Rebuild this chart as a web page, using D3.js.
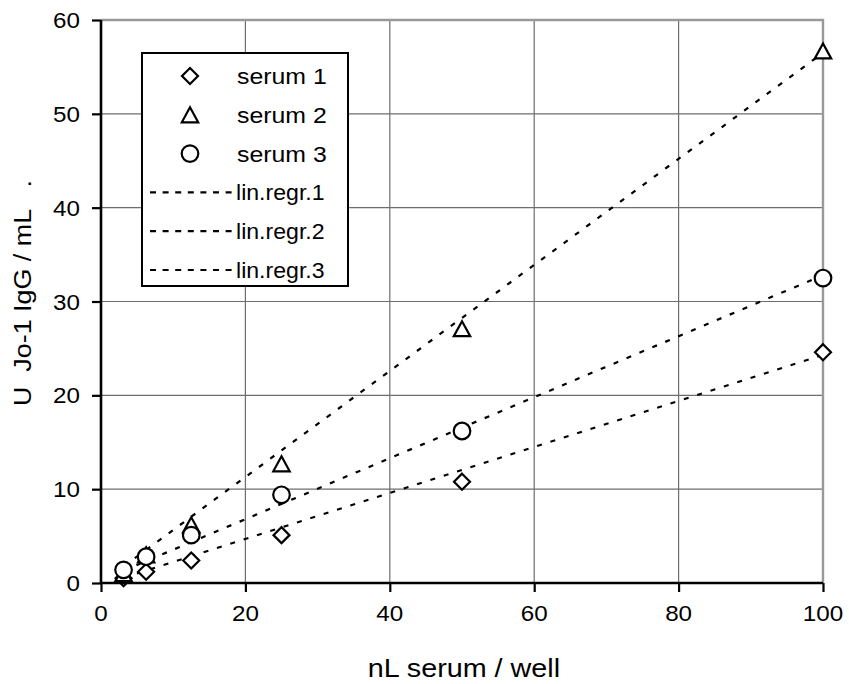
<!DOCTYPE html>
<html>
<head>
<meta charset="utf-8">
<script src="https://cdn.jsdelivr.net/npm/d3@7"></script>
<style>
  body { margin: 0; background: #fff; }
  svg { display: block; }
  text { font-family: "Liberation Sans", Arial, sans-serif; fill: #000; white-space: pre; }
</style>
</head>
<body>
<svg id="chart" width="849" height="684"></svg>
<script>
  // dilution series (nL serum per well)
  const volumes = [3.125, 6.25, 12.5, 25, 50, 100];

  // measured values, U Jo-1 IgG / mL
  const serum1 = [0.5, 1.2, 2.4, 5.1, 10.8, 24.6];
  const serum2 = [1.0, 3.0, 6.2, 12.7, 27.1, 56.7];
  const serum3 = [1.4, 2.8, 5.1, 9.4, 16.2, 32.5];

  // regression lines (slope, intercept)
  const fitSlopes     = [0.245, 0.565, 0.325];
  const fitIntercepts = [-0.2, 0.0, 0.3];

  const xTicks = [0, 20, 40, 60, 80, 100];
  const yTicks = [0, 10, 20, 30, 40, 50, 60];

  const seriesNames = ["serum 1", "serum 2", "serum 3"];
  const fitNames    = ["lin.regr.1", "lin.regr.2", "lin.regr.3"];
  const symbols     = ["diamond", "triangle", "circle"];

  const svg = d3.select("#chart");

  const plot = { left: 101, right: 823, top: 20, bottom: 583 };

  const x = d3.scaleLinear().domain([0, 100]).range([plot.left, plot.right]);
  const y = d3.scaleLinear().domain([0, 60]).range([plot.bottom, plot.top]);

  // put a text at a point, a bit stretched sideways like the original
  function label(parent, tx, ty, str, size, anchor, sx, rot) {
    const g = parent.append("g")
      .attr("transform", "translate(" + tx + "," + ty + ")" + (rot ? " rotate(" + rot + ")" : "") + " scale(" + sx + ",1)");
    g.append("text")
      .attr("text-anchor", anchor)
      .style("font-size", size + "px")
      .text(str);
    return g;
  }

  // marker shapes
  function marker(parent, kind, cx, cy) {
    if (kind === "circle") {
      parent.append("circle")
        .attr("cx", cx).attr("cy", cy).attr("r", 8.3)
        .attr("fill", "#fff").attr("stroke", "#000").attr("stroke-width", 2.2);
    } else if (kind === "diamond") {
      const r = 8;
      parent.append("path")
        .attr("d", "M" + cx + "," + (cy - r) + "L" + (cx + r) + "," + cy + "L" + cx + "," + (cy + r) + "L" + (cx - r) + "," + cy + "Z")
        .attr("fill", "#fff").attr("stroke", "#000").attr("stroke-width", 2.2);
    } else {
      const w = 8.2, h = 7.5;
      parent.append("path")
        .attr("d", "M" + cx + "," + (cy - h) + "L" + (cx + w) + "," + (cy + h) + "L" + (cx - w) + "," + (cy + h) + "Z")
        .attr("fill", "#fff").attr("stroke", "#000").attr("stroke-width", 2.2);
    }
  }

  // grid
  const grid = svg.append("g");
  grid.selectAll("line.gx")
    .data(xTicks.slice(1, -1))
    .enter().append("line")
      .attr("x1", d => x(d)).attr("x2", d => x(d))
      .attr("y1", plot.top).attr("y2", plot.bottom)
      .attr("stroke", "#6e6e6e").attr("stroke-width", 1.2);
  grid.selectAll("line.gy")
    .data(yTicks.slice(1, -1))
    .enter().append("line")
      .attr("x1", plot.left).attr("x2", plot.right)
      .attr("y1", d => y(d)).attr("y2", d => y(d))
      .attr("stroke", "#6e6e6e").attr("stroke-width", 1.2);

  // top and right frame in grey
  svg.append("path")
    .attr("d", "M" + plot.left + "," + plot.top + "H" + plot.right + "V" + plot.bottom)
    .attr("fill", "none").attr("stroke", "#999").attr("stroke-width", 2.4);

  // regression lines
  const lines = svg.append("g");
  const xMin = d3.min(volumes), xMax = d3.max(volumes);
  fitSlopes.forEach((m, i) => {
    const ends = [xMin, xMax].map(v => [v, m * v + fitIntercepts[i]]);
    lines.append("path")
      .datum(ends)
      .attr("d", d3.line().x(d => x(d[0])).y(d => y(d[1])))
      .attr("fill", "none")
      .attr("stroke", "#000")
      .attr("stroke-width", 2.2)
      .attr("stroke-dasharray", "5,9");
  });

  // markers
  const pts = svg.append("g");
  [serum1, serum2, serum3].forEach((vals, i) => {
    vals.forEach((v, j) => marker(pts, symbols[i], x(volumes[j]), y(v)));
  });

  // axes
  const xAxis = svg.append("g")
    .attr("transform", "translate(0," + plot.bottom + ")")
    .call(d3.axisBottom(x).tickValues(xTicks).tickSize(9).tickFormat(""));
  const yAxis = svg.append("g")
    .attr("transform", "translate(" + plot.left + ",0)")
    .call(d3.axisLeft(y).tickValues(yTicks).tickSize(9).tickFormat(""));
  [xAxis, yAxis].forEach(a => {
    a.select(".domain").attr("stroke", "#000").attr("stroke-width", 2.6)
      .attr("d", a === xAxis ? "M" + plot.left + ",0H" + plot.right : "M0," + plot.top + "V" + plot.bottom);
    a.selectAll(".tick line").attr("stroke", "#000").attr("stroke-width", 2.2);
  });

  // tick labels
  xTicks.forEach(t => label(svg, x(t), 621, String(t), 22, "middle", 1.1));
  yTicks.forEach(t => label(svg, 80, y(t) + 8, String(t), 22, "end", 1.1));

  // axis titles
  label(svg, 464, 677, "nL serum / well", 25, "middle", 1.15);
  label(svg, 31, 293, "U  Jo-1 IgG / mL   .", 24, "middle", 1.12, -90);

  // legend
  const legend = svg.append("g");
  legend.append("rect")
    .attr("x", 142).attr("y", 53).attr("width", 206).attr("height", 233)
    .attr("fill", "#fff").attr("stroke", "#000").attr("stroke-width", 2);
  const rowY = d3.scaleLinear().domain([0, 5]).range([76, 270]);
  seriesNames.forEach((n, i) => {
    marker(legend, symbols[i], 190, rowY(i));
    label(legend, 237, rowY(i) + 8, n, 22, "start", 1.13);
  });
  fitNames.forEach((n, i) => {
    const yy = rowY(i + 3);
    legend.append("line")
      .attr("x1", 150).attr("x2", 232).attr("y1", yy).attr("y2", yy)
      .attr("stroke", "#000").attr("stroke-width", 2.2).attr("stroke-dasharray", "6,6.6");
    label(legend, 236, yy + 8, n, 22, "start", 1.05);
  });
</script>
</body>
</html>
